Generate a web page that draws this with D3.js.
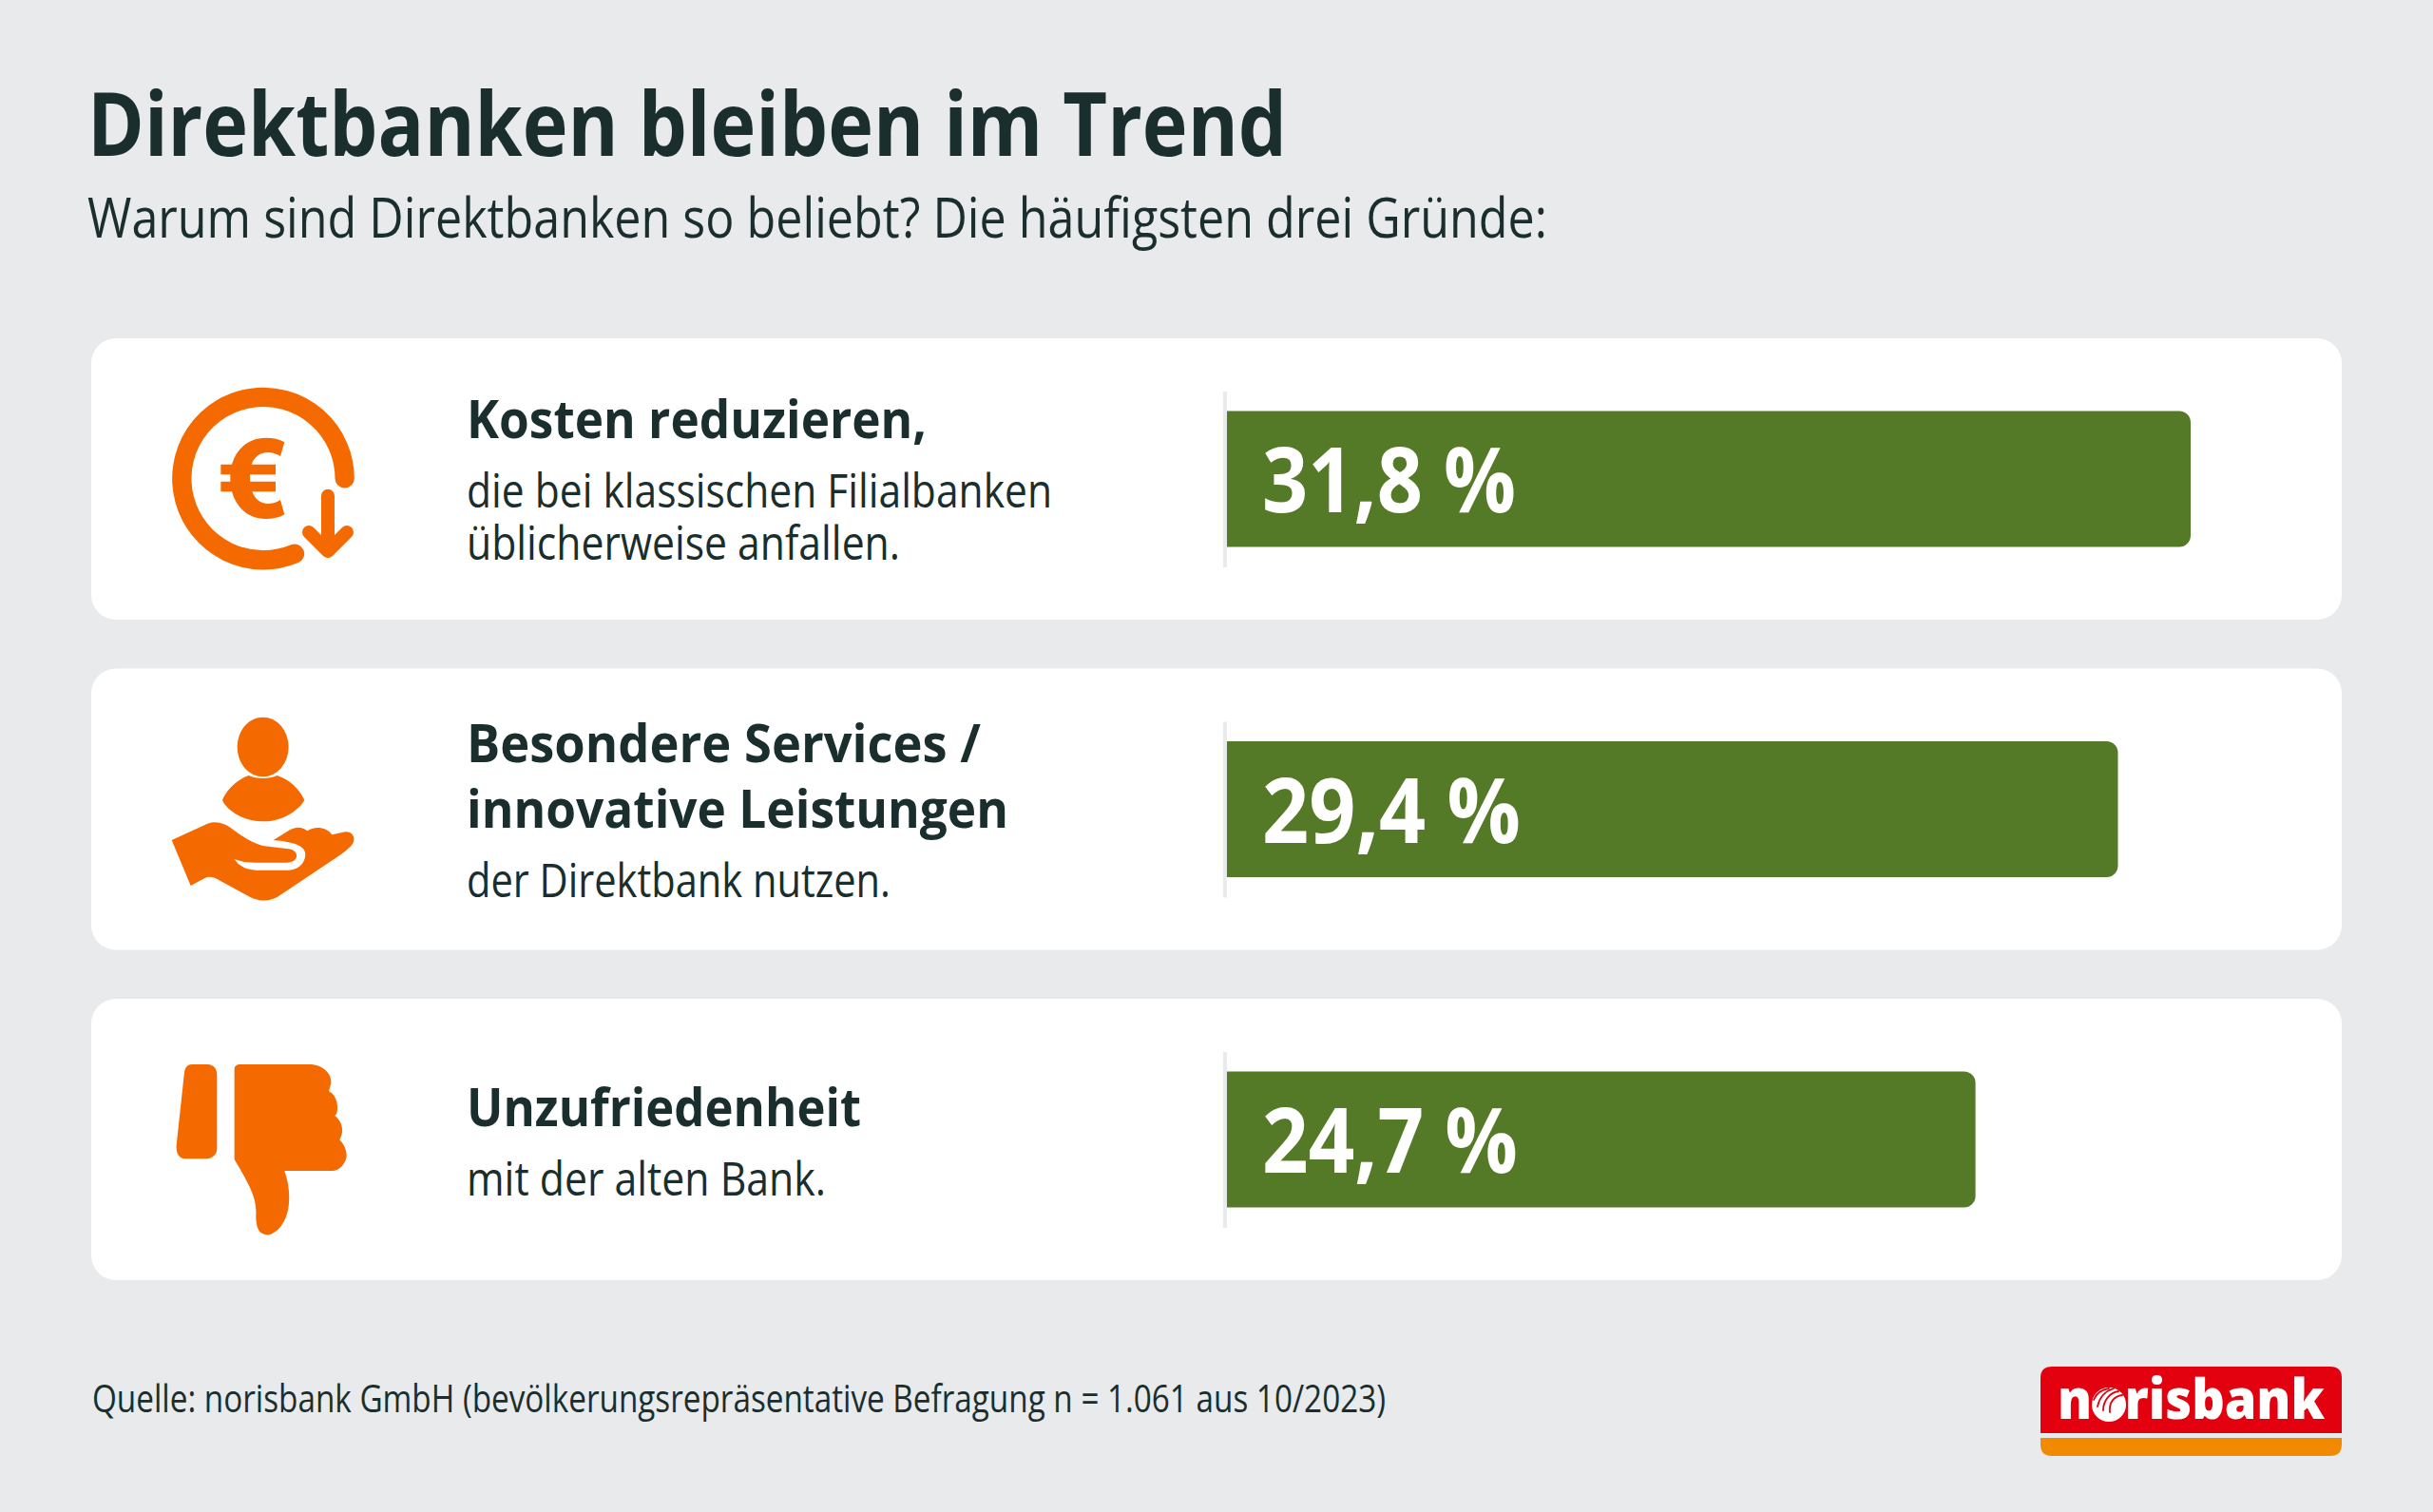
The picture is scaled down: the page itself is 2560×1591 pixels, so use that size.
<!DOCTYPE html>
<html lang="de">
<head>
<meta charset="utf-8">
<title>Direktbanken bleiben im Trend</title>
<script src="https://cdn.jsdelivr.net/npm/d3@7"></script>
<style>
    html, body { margin: 0; padding: 0; background: #e8eaec; }
    svg { display: block; }
    text { font-family: "Open Sans", "Noto Sans", sans-serif; fill: #1a2e2e; }
</style>
</head>
<body>
<div id="chart"></div>
<script>
// data
var categories = ["Kosten", "Services", "Unzufriedenheit"];
var values = [31.8, 29.4, 24.7];
var headLines = [
    ["Kosten reduzieren,"],
    ["Besondere Services /", "innovative Leistungen"],
    ["Unzufriedenheit"]
];
var subLines = [
    ["die bei klassischen Filialbanken", "üblicherweise anfallen."],
    ["der Direktbank nutzen."],
    ["mit der alten Bank."]
];

// layout, baselines are relative to the card top, right = where the line ends
var headLayout = [
    [{ dy: 105, right: 975 }],
    [{ dy: 99, right: 1032 }, { dy: 168, right: 1061 }],
    [{ dy: 134, right: 906 }]
];
var subLayout = [
    [{ dy: 178, right: 1107 }, { dy: 233, right: 947 }],
    [{ dy: 241, right: 937 }],
    [{ dy: 207, right: 869 }]
];
var labelRight = [1595, 1600, 1597];

var W = 2560, H = 1591;
var ORANGE = "#f56a00", GREEN = "#557a27", BG = "#e8eaec";

var svg = d3.select("#chart").append("svg")
    .attr("width", W)
    .attr("height", H)
    .attr("viewBox", "0 0 " + W + " " + H);

svg.append("rect").attr("width", W).attr("height", H).attr("fill", BG);

var x = d3.scaleLinear().domain([0, 31.8]).range([1291, 2305]);
var y = d3.scaleBand().domain(categories).range([356, 1347]).paddingInner(0.148);
var de = d3.formatLocale({ decimal: ",", thousands: ".", grouping: [3], currency: ["", " €"] });
var fmt = de.format(".1f");

function fitted(sel, txt, left, base, right, size, weight) {
    return sel.append("text")
        .attr("x", left)
        .attr("y", base)
        .attr("font-size", size)
        .attr("font-weight", weight)
        .attr("textLength", right - left)
        .attr("lengthAdjust", "spacingAndGlyphs")
        .text(txt);
}

// several lines in one text element
function block(sel, lines, layout, left, top, size, weight) {
    var t = sel.append("text")
        .attr("font-size", size)
        .attr("font-weight", weight);
    lines.forEach(function (line, j) {
        t.append("tspan")
            .attr("x", left)
            .attr("y", top + layout[j].dy)
            .attr("textLength", layout[j].right - left)
            .attr("lengthAdjust", "spacingAndGlyphs")
            .text(line);
    });
    return t;
}

// title
fitted(svg, "Direktbanken bleiben im Trend", 92, 164, 1354, 94, 700);
fitted(svg, "Warum sind Direktbanken so beliebt? Die häufigsten drei Gründe:", 92, 250, 1628, 58, 400);

// cards
svg.selectAll("rect.card")
    .data(categories)
    .enter().append("rect")
    .attr("class", "card")
    .attr("x", 96)
    .attr("y", function (d) { return y(d); })
    .attr("width", 2368)
    .attr("height", y.bandwidth())
    .attr("rx", 26)
    .attr("fill", "#fff");

// baseline next to each bar
svg.selectAll("rect.base")
    .data(categories)
    .enter().append("rect")
    .attr("class", "base")
    .attr("x", x(0) - 4)
    .attr("y", function (d) { return y(d) + y.bandwidth() / 2 - 92; })
    .attr("width", 4)
    .attr("height", 185)
    .attr("fill", BG);

// bars, only the right end is rounded
function barPath(v, cy) {
    var h = 143, r = 12, p = d3.path();
    p.moveTo(x(0), cy - h / 2);
    p.lineTo(x(v) - r, cy - h / 2);
    p.arcTo(x(v), cy - h / 2, x(v), cy - h / 2 + r, r);
    p.lineTo(x(v), cy + h / 2 - r);
    p.arcTo(x(v), cy + h / 2, x(v) - r, cy + h / 2, r);
    p.lineTo(x(0), cy + h / 2);
    p.closePath();
    return p.toString();
}

svg.selectAll("path.bar")
    .data(values)
    .enter().append("path")
    .attr("class", "bar")
    .attr("fill", GREEN)
    .attr("d", function (d, i) { return barPath(d, y(categories[i]) + y.bandwidth() / 2); });

values.forEach(function (v, i) {
    var top = y(categories[i]);
    fitted(svg, fmt(v) + " %", 1328, top + y.bandwidth() / 2 + 35, labelRight[i], 95, 700)
        .style("fill", "#fff");
    block(svg, headLines[i], headLayout[i], 491, top, 55, 700);
    block(svg, subLines[i], subLayout[i], 491, top, 49, 400);
});

// icons, traced at 3x
var euro = svg.append("g").attr("transform", "translate(160,390) scale(0.3333)");
var arcStart = [608, 340], arcEnd = [450, 578];
euro.append("path")
    .attr("d", "M" + arcStart + " A257 257 0 1 0 " + arcEnd)
    .attr("fill", "none")
    .attr("stroke", ORANGE)
    .attr("stroke-width", 61)
    .attr("stroke-linecap", "round");
euro.append("path")
    .attr("d", "M418 226 L405 270 C392 262 378 258 365 258 C340 258 322 274 314 296 L390 296 L390 328 L309 328 L309 350 L390 350 L390 382 L316 382 C325 406 342 420 366 420 C380 420 394 416 405 408 L418 454 C402 464 382 468 360 468 C305 468 266 434 252 382 L217 382 L217 350 L247 350 L247 328 L217 328 L217 296 L252 296 C266 246 305 212 360 212 C382 212 402 216 418 226 Z")
    .attr("fill", ORANGE);
euro.append("path")
    .attr("d", "M555 395 L555 568 M495 510 L555 570 L615 510")
    .attr("fill", "none")
    .attr("stroke", ORANGE)
    .attr("stroke-width", 42)
    .attr("stroke-linecap", "round")
    .attr("stroke-linejoin", "round");

var person = svg.append("g").attr("transform", "translate(140,730) scale(0.3333)").attr("fill", ORANGE);
person.append("ellipse").attr("cx", 410).attr("cy", 168).attr("rx", 81).attr("ry", 94);
person.append("path")
    .attr("d", "M365 258 C325 272 295 305 282 335 C285 350 330 403 410 403 C490 403 535 350 541 335 C525 300 495 272 455 258 C430 270 390 270 365 258 Z");
person.append("path")
    .attr("d", "M122 462 L235 410 C265 400 290 410 315 428 C345 450 375 472 410 480 L490 490 C510 492 520 505 515 518 C510 530 495 533 480 533 L385 533 C360 533 340 530 320 522 C335 545 360 557 390 557 L490 557 C525 557 548 530 543 500 C538 480 510 468 443 462 L495 430 C515 418 535 420 550 433 C570 418 610 418 628 445 L670 436 C690 434 703 452 695 470 C688 485 660 505 640 518 L465 635 C440 655 400 658 370 642 L275 590 C255 578 240 575 225 583 L182 606 Z");

var thumb = svg.append("g").attr("transform", "translate(140,1090) scale(0.3333)").attr("fill", ORANGE);
thumb.append("path")
    .attr("d", "M185 90 L235 90 C255 90 265 105 265 125 L265 355 C265 375 250 388 232 388 L165 388 C145 388 135 370 137 345 L162 115 C164 100 172 90 185 90 Z");
thumb.append("path")
    .attr("d", "M338 90 L555 90 C595 90 628 115 625 150 L618 175 C640 185 650 215 643 245 L637 252 C660 270 668 300 652 328 C670 345 680 375 670 395 C660 415 645 426 625 426 L478 426 C490 460 497 500 490 545 C480 600 445 630 420 628 C395 625 388 600 388 570 C390 520 380 490 320 390 L320 105 C320 95 328 90 338 90 Z");

// source
fitted(svg, "Quelle: norisbank GmbH (bevölkerungsrepräsentative Befragung n = 1.061 aus 10/2023)", 97, 1486, 1458, 40, 400);

// logo
var logo = svg.append("g");
logo.append("path")
    .attr("d", "M2147 1508 L2147 1450 Q2147 1438 2159 1438 L2452 1438 Q2464 1438 2464 1450 L2464 1508 Z")
    .attr("fill", "#e3000f");
logo.append("path")
    .attr("d", "M2147 1513 L2464 1513 L2464 1520 Q2464 1532 2452 1532 L2159 1532 Q2147 1532 2147 1520 Z")
    .attr("fill", "#f18a00");
fitted(logo, "norisbank", 2165, 1493, 2446, 58, 800).style("fill", "#fff");
// the o of the logo is a globe with red lines
logo.append("circle").attr("cx", 2219).attr("cy", 1478).attr("r", 18).attr("fill", "#fff");
logo.append("path")
    .attr("d", "M2203 1473 C2206 1466 2212 1462 2219 1461 M2207 1480 C2209 1470 2215 1464 2224 1461 M2213 1484 C2213 1474 2220 1465 2229 1464 M2220 1486 C2219 1476 2224 1469 2233 1468")
    .attr("fill", "none")
    .attr("stroke", "#e3000f")
    .attr("stroke-width", 1.8)
    .attr("stroke-linecap", "round");
</script>
</body>
</html>
